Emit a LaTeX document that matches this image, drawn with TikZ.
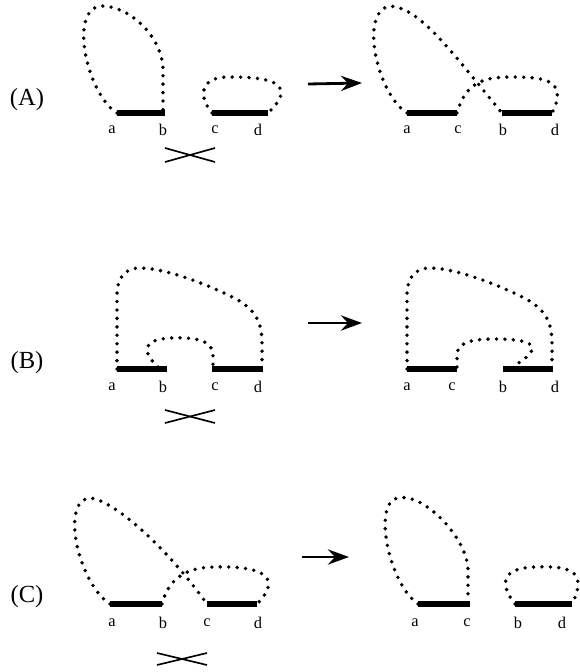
\documentclass[tikz,border=0pt]{standalone}
\usepackage{fontspec}
\setmainfont{Liberation Serif}
\usetikzlibrary{arrows.meta}

\tikzset{
  strand/.style={line width=4.4pt},
  loopline/.style={line width=3.3pt, line cap=round, dash pattern=on 0pt off 7.2pt},
  swapmark/.style={line width=1.4pt},
  turn/.style={line width=2.4pt, -{Stealth[length=18pt, width=13pt, inset=6pt]}},
  endlabel/.style={font=\fontsize{14}{16}\selectfont, inner sep=0pt},
  caselabel/.style={font=\fontsize{21}{24}\selectfont, inner sep=0pt}
}

\begin{document}
\begin{tikzpicture}[x=0.03cm, y=-0.03cm]
  \useasboundingbox (0,0) rectangle (579,672);

  % Case labels
  \node[caselabel] (capA) at (27,100) {(A)};
  \node[caselabel] (capB) at (27,363) {(B)};
  \node[caselabel] (capC) at (27,597) {(C)};

  % ---------------- (A) before
  \coordinate (Aa) at (117,113); \coordinate (Ab) at (165,113);
  \coordinate (Ac) at (212,113); \coordinate (Ad) at (268,113);
  \draw[strand] (Aa) -- (Ab);
  \draw[strand] (Ac) -- (Ad);
  \draw[loopline] (Aa) .. controls (88,95) and (68,12) .. (100,6)
                  .. controls (130,5) and (163,38) .. (163,70) -- (163,111);
  \draw[loopline] (Ac) .. controls (198,96) and (200,77) .. (228,77)
                  .. controls (255,77) and (305,78) .. (Ad);
  \foreach \p/\x in {a/112, b/163, c/215, d/258}
    \node[endlabel] (Al\p) at (\x,130) {\p};
  % swap mark
  \coordinate (Ax1) at (165,148); \coordinate (Ax2) at (215,162);
  \coordinate (Ax3) at (165,162); \coordinate (Ax4) at (215,148);
  \draw[swapmark] (Ax1) -- (Ax2);
  \draw[swapmark] (Ax3) -- (Ax4);

  % ---------------- (A) after
  \coordinate (Ar1) at (308,84); \coordinate (Ar2) at (362,83);
  \draw[turn] (Ar1) -- (Ar2);
  \coordinate (Aa') at (407,113); \coordinate (Ac') at (457,113);
  \coordinate (Ab') at (502,113); \coordinate (Ad') at (552,113);
  \draw[strand] (Aa') -- (Ac');
  \draw[strand] (Ab') -- (Ad');
  \draw[loopline] (Aa') .. controls (378,95) and (358,12) .. (390,6)
                  .. controls (420,8) and (450,50) .. (Ab');
  \draw[loopline] (Ac') .. controls (465,85) and (480,77) .. (510,77)
                  .. controls (540,77) and (570,78) .. (Ad');
  \foreach \p/\x in {a/407, c/458, b/503, d/555}
    \node[endlabel] (Ar\p) at (\x,130) {\p};

  % ---------------- (B) before
  \coordinate (Ba) at (117,369); \coordinate (Bb) at (167,369);
  \coordinate (Bc) at (212,369); \coordinate (Bd) at (263,369);
  \draw[strand] (Ba) -- (Bb);
  \draw[strand] (Bc) -- (Bd);
  \draw[loopline] (Ba) -- (117,295) .. controls (117,278) and (125,268) .. (140,268)
                  .. controls (165,268) and (210,285) .. (238,300)
                  .. controls (258,312) and (262,325) .. (262,345) -- (262,367);
  \draw[loopline] (158,367) .. controls (145,355) and (138,340) .. (170,338)
                  .. controls (195,337) and (213,340) .. (213,355) -- (213,367);
  \foreach \p/\x in {a/112, b/163, c/215, d/258}
    \node[endlabel] (Bl\p) at (\x,387) {\p};
  % swap mark
  \coordinate (Bx1) at (165,410); \coordinate (Bx2) at (215,423);
  \coordinate (Bx3) at (165,423); \coordinate (Bx4) at (215,410);
  \draw[swapmark] (Bx1) -- (Bx2);
  \draw[swapmark] (Bx3) -- (Bx4);

  % ---------------- (B) after
  \coordinate (Br1) at (308,323); \coordinate (Br2) at (362,323);
  \draw[turn] (Br1) -- (Br2);
  \coordinate (Ba') at (407,369); \coordinate (Bc') at (457,369);
  \coordinate (Bb') at (503,369); \coordinate (Bd') at (553,369);
  \draw[strand] (Ba') -- (Bc');
  \draw[strand] (Bb') -- (Bd');
  \draw[loopline] (Ba') -- (407,295) .. controls (407,278) and (415,268) .. (430,268)
                  .. controls (455,268) and (500,285) .. (528,300)
                  .. controls (548,312) and (552,325) .. (552,345) -- (552,367);
  \draw[loopline] (457,367) -- (457,355) .. controls (457,343) and (470,339) .. (495,339)
                  .. controls (520,339) and (555,342) .. (512,367);
  \foreach \p/\x in {a/407, c/452, b/503, d/555}
    \node[endlabel] (Br\p) at (\x,387) {\p};

  % ---------------- (C) before
  \coordinate (Ca) at (110,604); \coordinate (Cb) at (162,604);
  \coordinate (Cc) at (207,604); \coordinate (Cd) at (257,604);
  \draw[strand] (Ca) -- (Cb);
  \draw[strand] (Cc) -- (Cd);
  \draw[loopline] (Ca) .. controls (80,585) and (60,505) .. (88,498)
                  .. controls (110,497) and (165,545) .. (Cc);
  \draw[loopline] (Cb) .. controls (168,580) and (185,567) .. (215,567)
                  .. controls (245,566) and (290,570) .. (Cd);
  \foreach \p/\x in {a/112, b/163, c/207, d/258}
    \node[endlabel] (Cl\p) at (\x,623) {\p};
  % swap mark
  \coordinate (Cx1) at (157,653); \coordinate (Cx2) at (207,665);
  \coordinate (Cx3) at (157,665); \coordinate (Cx4) at (207,653);
  \draw[swapmark] (Cx1) -- (Cx2);
  \draw[swapmark] (Cx3) -- (Cx4);

  % ---------------- (C) after
  \coordinate (Cr1) at (302,557); \coordinate (Cr2) at (349,557);
  \draw[turn] (Cr1) -- (Cr2);
  \coordinate (Ca') at (418,604); \coordinate (Cc') at (470,604);
  \coordinate (Cb') at (515,604); \coordinate (Cd') at (572,604);
  \draw[strand] (Ca') -- (Cc');
  \draw[strand] (Cb') -- (Cd');
  \draw[loopline] (Ca') .. controls (390,585) and (372,505) .. (397,498)
                  .. controls (425,492) and (468,540) .. (468,570) -- (468,602);
  \draw[loopline] (Cb') .. controls (500,585) and (500,568) .. (535,567)
                  .. controls (565,566) and (590,568) .. (Cd');
  \foreach \p/\x in {a/415, c/467, b/518, d/562}
    \node[endlabel] (Cr\p) at (\x,623) {\p};
\end{tikzpicture}
\end{document}
